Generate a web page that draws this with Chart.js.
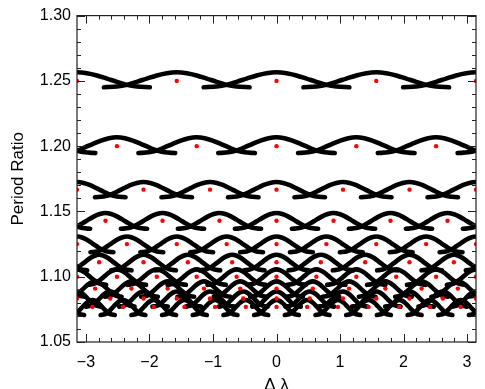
<!DOCTYPE html>
<html><head><meta charset="utf-8">
<script src="https://cdn.jsdelivr.net/npm/chart.js@4"></script>
<style>html,body{margin:0;padding:0;background:#fff}#wrap{width:485px;height:389px;position:relative}</style>
</head><body><div id="wrap"><canvas id="c" width="485" height="389"></canvas></div>
<script>
// Period-ratio level of each first-order resonance (dots sit on these)
const ratioLevels = [1.25, 1.2, 1.1667, 1.1429, 1.125, 1.1111, 1.1, 1.0909, 1.0833, 1.0769];
// Spacing between neighbouring dots / arc crests along Δλ
const dotSpacing = [1.571, 1.257, 1.047, 0.898, 0.785, 0.698, 0.628, 0.571, 0.524, 0.483];
// Arc crest height above the level and arc end depth below it
const arcPeakOffset = [0.0066, 0.0068, 0.0058, 0.0059, 0.0058, 0.0057, 0.0056, 0.0055, 0.0054, 0.0053];
const arcEndOffset  = [0.0049, 0.0053, 0.0058, 0.0062, 0.0062, 0.0062, 0.0062, 0.0062, 0.0062, 0.0062];
// Arc profile: distance from crest (fraction of dot spacing) and drop (fraction of full depth)
const arcShapeDx   = [0, 0.1, 0.2, 0.3, 0.4, 0.5, 0.6, 0.73];
const arcShapeDrop = [0, 0.06, 0.21, 0.42, 0.64, 0.84, 0.95, 1.0];
// Crest / dot positions (Δλ) for each resonance
const centers4  = [-3.142, -1.571, 0, 1.571, 3.142];
const centers5  = [-3.770, -2.513, -1.257, 0, 1.257, 2.513, 3.770];
const centers6  = [-3.142, -2.094, -1.047, 0, 1.047, 2.094, 3.142];
const centers7  = [-3.590, -2.693, -1.795, -0.898, 0, 0.898, 1.795, 2.693, 3.590];
const centers8  = [-3.142, -2.356, -1.571, -0.785, 0, 0.785, 1.571, 2.356, 3.142];
const centers9  = [-3.491, -2.793, -2.094, -1.396, -0.698, 0, 0.698, 1.396, 2.094, 2.793, 3.491];
const centers10 = [-3.142, -2.513, -1.885, -1.257, -0.628, 0, 0.628, 1.257, 1.885, 2.513, 3.142];
const centers11 = [-3.427, -2.856, -2.285, -1.714, -1.142, -0.571, 0, 0.571, 1.142, 1.714, 2.285, 2.856, 3.427];
const centers12 = [-3.142, -2.618, -2.094, -1.571, -1.047, -0.524, 0, 0.524, 1.047, 1.571, 2.094, 2.618, 3.142];
const centers13 = [-3.383, -2.900, -2.417, -1.933, -1.450, -0.967, -0.483, 0, 0.483, 0.967, 1.450, 1.933, 2.417, 2.900, 3.383];
// Axis ticks
const xTickLabels = [-3, -2, -1, 0, 1, 2, 3];
const yTickLabels = [1.05, 1.10, 1.15, 1.20, 1.25, 1.30];

const centerLists = [centers4, centers5, centers6, centers7, centers8, centers9, centers10, centers11, centers12, centers13];
const XMIN = -Math.PI, XMAX = Math.PI, YMIN = 1.05, YMAX = 1.30;

const datasets = [];
centerLists.forEach((centers, i) => {
  const sp = dotSpacing[i];
  const top = ratioLevels[i] + arcPeakOffset[i];
  const amp = arcPeakOffset[i] + arcEndOffset[i];
  centers.forEach(c => {
    const pts = [];
    for (let k = arcShapeDx.length - 1; k > 0; k--) pts.push({x: c - arcShapeDx[k] * sp, y: top - arcShapeDrop[k] * amp});
    for (let k = 0; k < arcShapeDx.length; k++) pts.push({x: c + arcShapeDx[k] * sp, y: top - arcShapeDrop[k] * amp});
    datasets.push({type: 'scatter', data: pts, showLine: true, borderColor: '#000', borderWidth: 4.6,
      pointRadius: 0, pointHoverRadius: 0, tension: 0.35, fill: false, clip: 0, order: 2,
      borderCapStyle: 'round', borderJoinStyle: 'round'});
  });
});
const dots = [];
centerLists.forEach((centers, i) => centers.forEach(c => dots.push({x: c, y: ratioLevels[i]})));
datasets.push({type: 'scatter', data: dots, showLine: false, pointRadius: 2.2, pointHoverRadius: 2.2,
  pointBackgroundColor: '#ff0000', pointBorderWidth: 0, borderColor: '#ff0000', clip: 0, order: 0});

const frameTicks = {
  id: 'frameTicks',
  afterDatasetsDraw(chart) {
    const ctx = chart.ctx, a = chart.chartArea, xs = chart.scales.x, ys = chart.scales.y;
    ctx.save();
    ctx.strokeStyle = '#222';
    ctx.lineWidth = 1.2;
    ctx.strokeRect(a.left, a.top, a.right - a.left, a.bottom - a.top);
    ctx.lineWidth = 1;
    const vline = (px, len) => {
      ctx.beginPath(); ctx.moveTo(px, a.bottom); ctx.lineTo(px, a.bottom - len); ctx.stroke();
      ctx.beginPath(); ctx.moveTo(px, a.top); ctx.lineTo(px, a.top + len); ctx.stroke();
    };
    const hline = (py, len) => {
      ctx.beginPath(); ctx.moveTo(a.left, py); ctx.lineTo(a.left + len, py); ctx.stroke();
      ctx.beginPath(); ctx.moveTo(a.right, py); ctx.lineTo(a.right - len, py); ctx.stroke();
    };
    for (let v = -3.2; v <= 3.2001; v += 0.2) {
      if (v < XMIN || v > XMAX) continue;
      const isMajor = Math.abs(v - Math.round(v)) < 1e-6;
      vline(Math.round(xs.getPixelForValue(v)) + 0.5, isMajor ? 8 : 4);
    }
    for (let n = 105; n <= 130; n++) {
      hline(Math.round(ys.getPixelForValue(n / 100)) + 0.5, n % 5 === 0 ? 8 : 4);
    }
    ctx.restore();
  }
};

new Chart(document.getElementById('c'), {
  data: {datasets},
  options: {
    responsive: false, animation: false, devicePixelRatio: 1,
    layout: {padding: {top: 14, right: 9, left: 0, bottom: 0}},
    plugins: {legend: {display: false}, tooltip: {enabled: false}},
    events: [],
    scales: {
      x: {
        type: 'linear', min: XMIN, max: XMAX,
        afterFit(s) { s.height = 47; },
        afterBuildTicks(s) { s.ticks = xTickLabels.map(v => ({value: v})); },
        grid: {display: false, drawTicks: false}, border: {display: false},
        ticks: {color: '#000', padding: 11, maxRotation: 0, autoSkip: false,
          font: {family: 'Liberation Sans', size: 16},
          callback: v => (v < 0 ? '\u2212' + Math.abs(v) : String(v))},
        title: {display: true, text: 'Δ λ', color: '#000', font: {family: 'Liberation Sans', size: 17},
          padding: {top: 0, bottom: -7}}
      },
      y: {
        type: 'linear', min: YMIN, max: YMAX,
        afterFit(s) { s.width = 77; },
        afterBuildTicks(s) { s.ticks = yTickLabels.map(v => ({value: v})); },
        grid: {display: false, drawTicks: false}, border: {display: false},
        ticks: {color: '#000', padding: 6, autoSkip: false,
          font: {family: 'Liberation Sans', size: 16},
          callback: v => Number(v).toFixed(2)},
        title: {display: true, text: 'Period Ratio', color: '#000', font: {family: 'Liberation Sans', size: 17},
          padding: {top: 8, bottom: 0}}
      }
    }
  },
  plugins: [frameTicks]
});
</script>
</body></html>
